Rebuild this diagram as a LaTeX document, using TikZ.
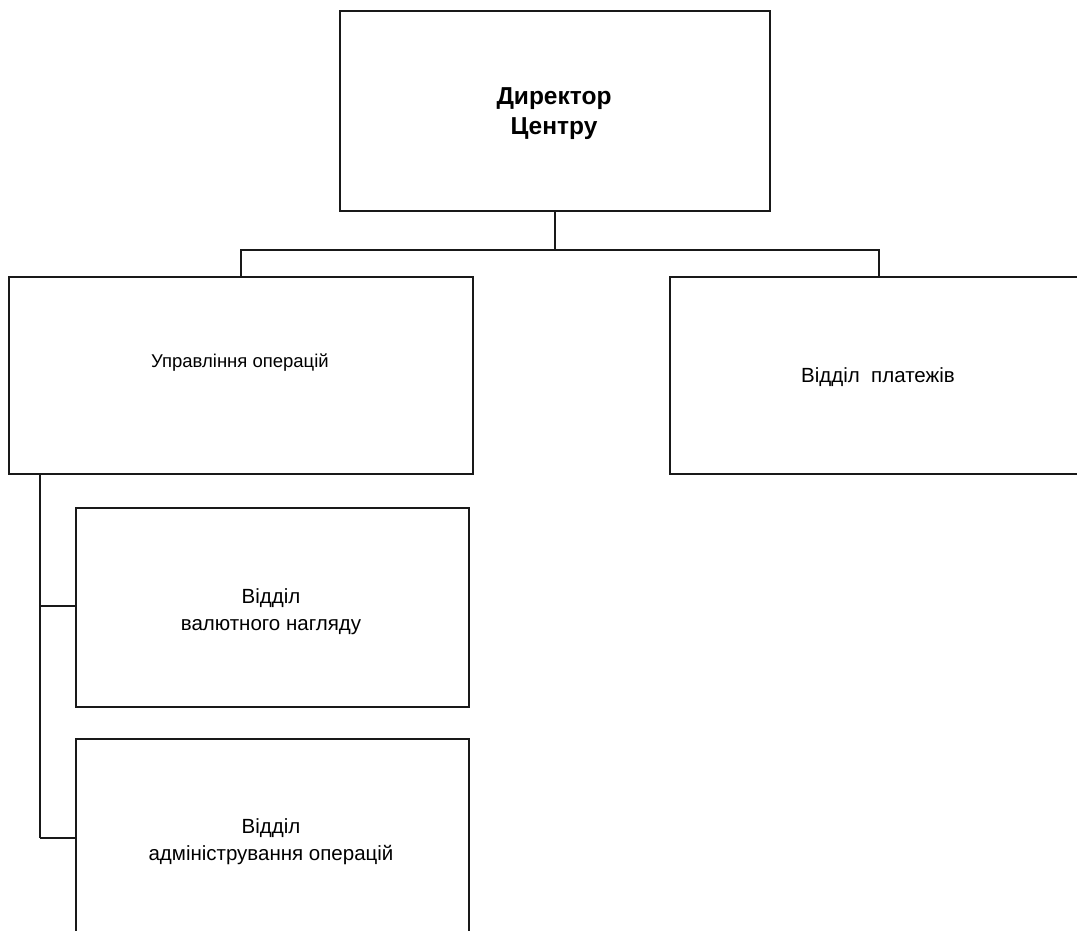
\documentclass[tikz,border=0pt]{standalone}
\usepackage{fontspec}
\setmainfont{Liberation Sans}
\begin{document}
\begin{tikzpicture}[x=1bp,y=-1bp,
  box/.style={draw=black!90,line width=1.5bp,rectangle,inner sep=0pt,anchor=north west},
  conn/.style={draw=black!90,line width=1.5bp},
  lbl/.style={align=center,inner sep=0pt,font=\fontsize{20.5bp}{27bp}\selectfont}]
\useasboundingbox (0,0) rectangle (1077,931);
\clip (0,0) rectangle (1077,931);
\fill[white] (0,0) rectangle (1077,931);
% boxes
\node[box,minimum width=430bp,minimum height=200bp] (dir) at (339,10) {};
\node[box,minimum width=464bp,minimum height=197bp] (upr) at (8,276) {};
\node[box,minimum width=418bp,minimum height=197bp] (plat) at (669,276) {};
\node[box,minimum width=393bp,minimum height=199bp] (val) at (75,507) {};
\node[box,minimum width=393bp,minimum height=230bp] (adm) at (75,738) {};
% labels
\node[lbl,font=\bfseries\fontsize{24.5bp}{30bp}\selectfont] (tdir) at (554,114) {Директор\\Центру};
\node[lbl,font=\fontsize{18.5bp}{22bp}\selectfont] (tupr) at (240,363) {Управління операцій};
\node[lbl] (tplat) at (878,377) {Відділ\ \ платежів};
\node[lbl] (tval) at (271,612) {Відділ\\валютного нагляду};
\node[lbl] (tadm) at (271,842) {Відділ\\адміністрування операцій};
% connectors
\coordinate (j) at (dir.south |- 0,250);
\draw[conn] (dir.south) -- (j);
\draw[conn] (upr.north) |- (j) -| (plat.north);
\coordinate (s0) at (40,473);
\coordinate (s1) at (40,606);
\coordinate (s2) at (40,838);
\draw[conn] (s0) -- (s2);
\draw[conn] (s1) -- (s1 -| val.west);
\draw[conn] (s2) -- (s2 -| adm.west);
\end{tikzpicture}
\end{document}
